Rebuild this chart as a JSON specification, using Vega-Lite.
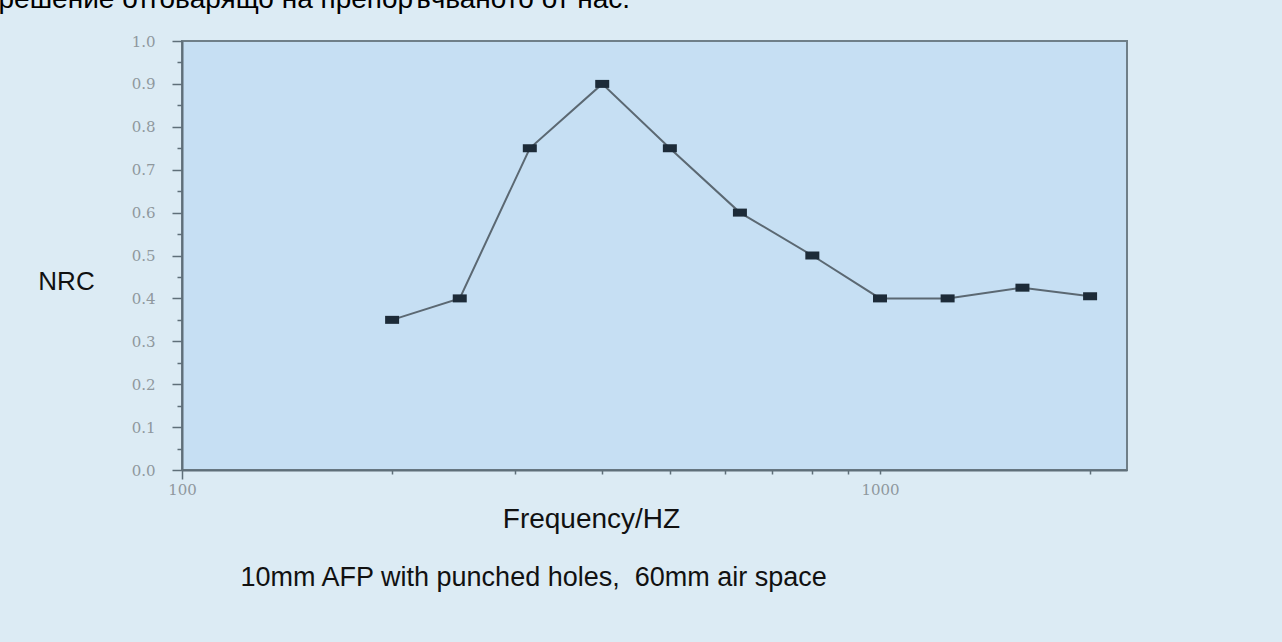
{
  "$schema": "https://vega.github.io/schema/vega-lite/v6.json",
  "width": 945,
  "height": 429,
  "autosize": {"type": "none"},
  "padding": {"left": 182, "top": 41, "right": 155, "bottom": 172},
  "background": "#dcebf4",
  "config": {
    "view": {"fill": "#c6dff3", "stroke": "#6f7f88", "strokeWidth": 2},
    "axis": {
      "domainColor": "#5f6f79",
      "domainWidth": 2,
      "tickColor": "#5f6f79",
      "tickWidth": 1.5,
      "grid": false,
      "labelFont": "DejaVu Serif",
      "labelFontSize": 15,
      "labelColor": "#8f989e",
      "titleFont": "Liberation Sans",
      "titleFontWeight": "normal",
      "titleColor": "#111111"
    }
  },
  "data": {
    "values": [
      {"freq": 200, "nrc": 0.35},
      {"freq": 250, "nrc": 0.40},
      {"freq": 315, "nrc": 0.75},
      {"freq": 400, "nrc": 0.90},
      {"freq": 500, "nrc": 0.75},
      {"freq": 630, "nrc": 0.60},
      {"freq": 800, "nrc": 0.50},
      {"freq": 1000, "nrc": 0.40},
      {"freq": 1250, "nrc": 0.40},
      {"freq": 1600, "nrc": 0.425},
      {"freq": 2000, "nrc": 0.405}
    ]
  },
  "layer": [
    {
      "mark": {"type": "line", "color": "#5b6872", "strokeWidth": 2},
      "encoding": {
        "x": {
          "field": "freq",
          "type": "quantitative",
          "scale": {"type": "log", "domain": [100, 2259], "nice": false},
          "axis": {
            "values": [100, 200, 300, 400, 500, 600, 700, 800, 900, 1000, 2000],
            "format": "d",
            "labelExpr": "datum.value == 100 || datum.value == 1000 ? datum.label : ''",
            "tickSize": {"condition": {"test": "datum.value == 100", "value": 9}, "value": 4},
            "labelPadding": {"condition": {"test": "datum.value == 100", "value": 3}, "value": 8},
            "labelFlush": false,
            "labelOverlap": false,
            "title": "Frequency/HZ",
            "titleFontSize": 28,
            "titleX": 409,
            "titleY": 57,
            "titleAlign": "center",
            "titleBaseline": "alphabetic"
          }
        },
        "y": {
          "field": "nrc",
          "type": "quantitative",
          "scale": {"domain": [0, 1], "nice": false},
          "axis": {
            "values": [0, 0.05, 0.1, 0.15, 0.2, 0.25, 0.3, 0.35, 0.4, 0.45, 0.5, 0.55, 0.6, 0.65, 0.7, 0.75, 0.8, 0.85, 0.9, 0.95, 1.0],
            "labelExpr": "round(datum.value * 100) % 10 == 0 ? format(datum.value, '.1f') : ''",
            "tickSize": {"condition": {"test": "round(datum.value * 100) % 10 == 0", "value": 10}, "value": 5},
            "labelPadding": 17,
            "labelOverlap": false,
            "labelFlush": false,
            "title": "NRC",
            "titleFontSize": 26,
            "titleAngle": 0,
            "titleX": -116,
            "titleY": 240,
            "titleAlign": "center",
            "titleBaseline": "middle"
          }
        }
      }
    },
    {
      "mark": {"type": "point", "shape": "M-1.75,-1H1.75V1H-1.75Z", "filled": true, "color": "#1d2b38", "size": 64, "opacity": 1},
      "encoding": {
        "x": {
          "field": "freq",
          "type": "quantitative",
          "scale": {"type": "log", "domain": [100, 2259], "nice": false},
          "axis": {
            "orient": "top",
            "labels": false,
            "ticks": false,
            "domain": false,
            "title": "решение отговарящо на препоръчваното от нас.",
            "titleFontSize": 28,
            "titleColor": "#000000",
            "titleX": -184,
            "titleY": -34,
            "titleAlign": "left",
            "titleBaseline": "alphabetic"
          }
        },
        "y": {
          "field": "nrc",
          "type": "quantitative",
          "scale": {"domain": [0, 1], "nice": false},
          "axis": {
            "orient": "right",
            "labels": false,
            "ticks": false,
            "domain": false,
            "title": "10mm AFP with punched holes,\u00a0\u00a060mm air space",
            "titleFontSize": 27,
            "titleAngle": 0,
            "titleX": -887,
            "titleY": 544,
            "titleAlign": "left",
            "titleBaseline": "alphabetic"
          }
        }
      }
    }
  ],
  "resolve": {"scale": {"x": "independent", "y": "independent"}}
}
